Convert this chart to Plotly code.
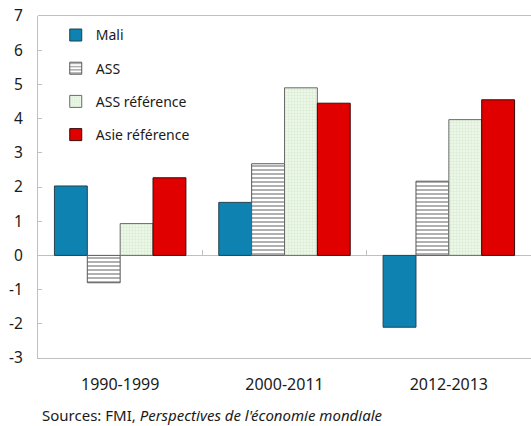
import plotly.graph_objects as go

categories = ["1990-1999", "2000-2011", "2012-2013"]
mali = [2.03, 1.55, -2.1]
ass = [-0.8, 2.68, 2.17]
ass_ref = [0.93, 4.9, 3.97]
asie_ref = [2.27, 4.45, 4.55]
y_ticks = list(range(-3, 8))
y_labels = [str(v).replace("\u2212", "-") for v in y_ticks]

FONT = "Noto Sans"
PLOT_H = 426 - 16 - 68

fig = go.Figure()
fig.add_bar(name="Mali", x=categories, y=mali, legendgroup="a",
            marker=dict(color="#0e82b0", line=dict(color="#24404f", width=1)))
fig.add_bar(name="ASS", x=categories, y=ass, legendgroup="b",
            marker=dict(color="white", line=dict(color="#5a5a5a", width=1),
                        pattern=dict(shape="-", fgcolor="#3a3a3a", bgcolor="white",
                                     size=4, solidity=0.4)))
fig.add_bar(name="ASS référence", x=categories, y=ass_ref, legendgroup="c",
            marker=dict(color="#e9f5e4", line=dict(color="#6a6a6a", width=1),
                        pattern=dict(shape=".", fgcolor="#c4e2b8", bgcolor="#f2f9ef",
                                     size=3, solidity=0.5)))
fig.add_bar(name="Asie référence", x=categories, y=asie_ref, legendgroup="d",
            marker=dict(color="#e00000", line=dict(color="#3a0a0a", width=1)))
# invisible trace to carry boundary ticks on the zero line
fig.add_scatter(x=categories, y=[0, 0, 0], xaxis="x2", mode="markers",
                marker=dict(opacity=0), showlegend=False, hoverinfo="skip")

fig.update_layout(
    width=531, height=426,
    margin=dict(l=38, r=0, t=16, b=68, autoexpand=False),
    paper_bgcolor="white", plot_bgcolor="white",
    barmode="group", bargap=0.2, bargroupgap=0,
    font=dict(family=FONT, size=14, color="#1a1a1a"),
    showlegend=True,
    legend=dict(x=0.036, y=0.99, xanchor="left", yanchor="top",
                bgcolor="rgba(0,0,0,0)", font=dict(size=14),
                tracegroupgap=12, traceorder="grouped"),
    xaxis=dict(type="category", showline=True, linecolor="#c0c0c0",
               linewidth=1, ticks="", showgrid=False, automargin=False,
               tickfont=dict(size=16), ticklabelstandoff=12),
    xaxis2=dict(type="category", overlaying="x", matches="x", anchor="free",
                position=0.3, side="bottom", showline=False, showgrid=False,
                ticks="inside", tickson="boundaries", ticklen=5, tickcolor="#c0c0c0",
                showticklabels=False, automargin=False),
    yaxis=dict(range=[-3, 7], tickvals=y_ticks, ticktext=y_labels, showgrid=False,
               showline=True, linecolor="#c0c0c0", linewidth=1, automargin=False,
               ticks="inside", ticklen=4, tickcolor="#c0c0c0",
               ticklabeloverflow="allow",
               zeroline=True, zerolinecolor="#c0c0c0", zerolinewidth=1,
               tickfont=dict(size=15.5), ticklabelstandoff=11),
    shapes=[dict(type="line", xref="paper", yref="paper", x0=0, x1=1,
                 y0=1 + 0.5 / PLOT_H, y1=1 + 0.5 / PLOT_H,
                 line=dict(color="#c0c0c0", width=1))],
)

fig.add_annotation(text="Sources: FMI, <i>Perspectives de l'économie mondiale</i>",
                   xref="paper", yref="paper", x=0.004, y=-0.167,
                   xanchor="left", yanchor="middle", showarrow=False,
                   font=dict(size=15, color="#1a1a1a"))

fig.write_html("out.html", config={"displayModeBar": False},
               post_script="document.body.style.margin='0';document.body.style.overflow='hidden';")
